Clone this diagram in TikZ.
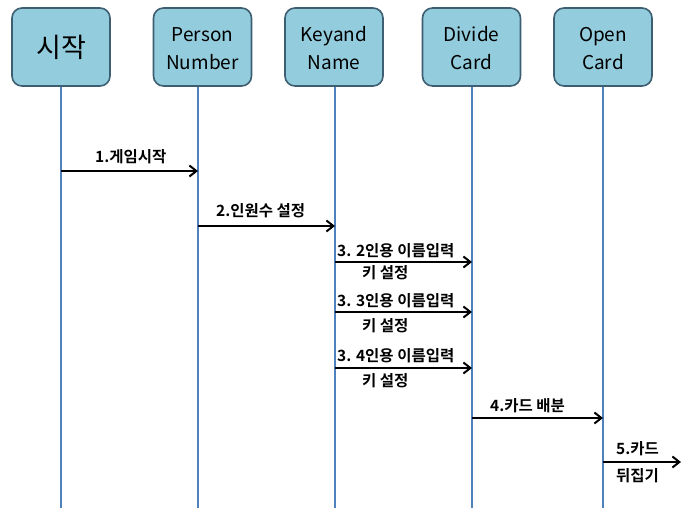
\documentclass[tikz,border=0pt]{standalone}
\usepackage{fontspec}
\setmainfont{Noto Sans CJK KR}
\newfontfamily\krbold{Noto Sans CJK KR Bold}
\usetikzlibrary{arrows.meta}
\definecolor{boxfill}{HTML}{93CDDD}
\definecolor{boxdraw}{HTML}{3E5F72}
\definecolor{lifeblue}{HTML}{4F81BD}
\newcommand\twoline[2]{\raisebox{-3pt}[\height][\depth]{\begin{tabular}{@{}c@{}}#1\\#2\end{tabular}}}
\tikzset{
  actor/.style={draw=boxdraw, fill=boxfill, line width=1.6pt, rounded corners=10pt,
    minimum width=98pt, minimum height=78pt, align=center, font=\fontsize{19}{28}\selectfont, inner sep=0pt},
  lifeline/.style={draw=lifeblue, line width=1.2pt},
  msg/.style={draw=black, line width=2pt, -{Straight Barb[length=7pt,width=11pt,line width=2pt]}},
  lbl/.style={font=\krbold\fontsize{15.5}{18}\selectfont, inner sep=0pt, anchor=base west}
}
\begin{document}
\begin{tikzpicture}[x=1pt,y=-1pt]
\useasboundingbox (0,0) rectangle (682,508);
\fill[white] (0,0) rectangle (682,508);
% actors
\node[actor, font=\fontsize{27}{30}\selectfont] (b1) at (61,47) {시작};
\node[actor] (b2) at (202.5,47) {\twoline{Person}{Number}};
\node[actor] (b3) at (334,47) {\twoline{Keyand}{Name}};
\node[actor] (b4) at (471.5,47) {\twoline{Divide}{Card}};
\node[actor] (b5) at (603,47) {\twoline{Open}{Card}};
% lifeline ends
\coordinate (e1) at (61,508);
\coordinate (e2) at (198,508);
\coordinate (e3) at (335,508);
\coordinate (e4) at (472,508);
\coordinate (e5) at (603,508);
\draw[lifeline] (b1.south) -- (e1);
\draw[lifeline] (b2.south -| e2) -- (e2);
\draw[lifeline] (b3.south -| e3) -- (e3);
\draw[lifeline] (b4.south -| e4) -- (e4);
\draw[lifeline] (b5.south) -- (e5);
% message points
\coordinate (m1a) at (61,171);  \coordinate (m1b) at (198,171);
\coordinate (m2a) at (198,226); \coordinate (m2b) at (335,226);
\coordinate (m3a) at (335,262); \coordinate (m3b) at (472,262);
\coordinate (m4a) at (335,312); \coordinate (m4b) at (472,312);
\coordinate (m5a) at (335,368); \coordinate (m5b) at (472,368);
\coordinate (m6a) at (472,418); \coordinate (m6b) at (603,418);
\coordinate (m7a) at (603,462); \coordinate (m7b) at (681,462);
\draw[msg] (m1a) -- (m1b);
\draw[msg] (m2a) -- (m2b);
\draw[msg] (m3a) -- (m3b);
\draw[msg] (m4a) -- (m4b);
\draw[msg] (m5a) -- (m5b);
\draw[msg] (m6a) -- (m6b);
\draw[msg] (m7a) -- (m7b);
% labels
\node[lbl] (t1) at (95,162) {1.게임시작};
\node[lbl] (t2) at (216,216) {2.인원수 설정};
\node[lbl] (t3) at (337,256) {3. 2인용 이름입력};
\node[lbl] (t3b) at (362,278) {키 설정};
\node[lbl] (t4) at (337,306) {3. 3인용 이름입력};
\node[lbl] (t4b) at (362,331) {키 설정};
\node[lbl] (t5) at (337,361) {3. 4인용 이름입력};
\node[lbl] (t5b) at (362,386) {키 설정};
\node[lbl] (t6) at (490,411) {4.카드 배분};
\node[lbl] (t7) at (616,454) {5.카드};
\node[lbl] (t7b) at (616,481) {뒤집기};
\end{tikzpicture}
\end{document}
